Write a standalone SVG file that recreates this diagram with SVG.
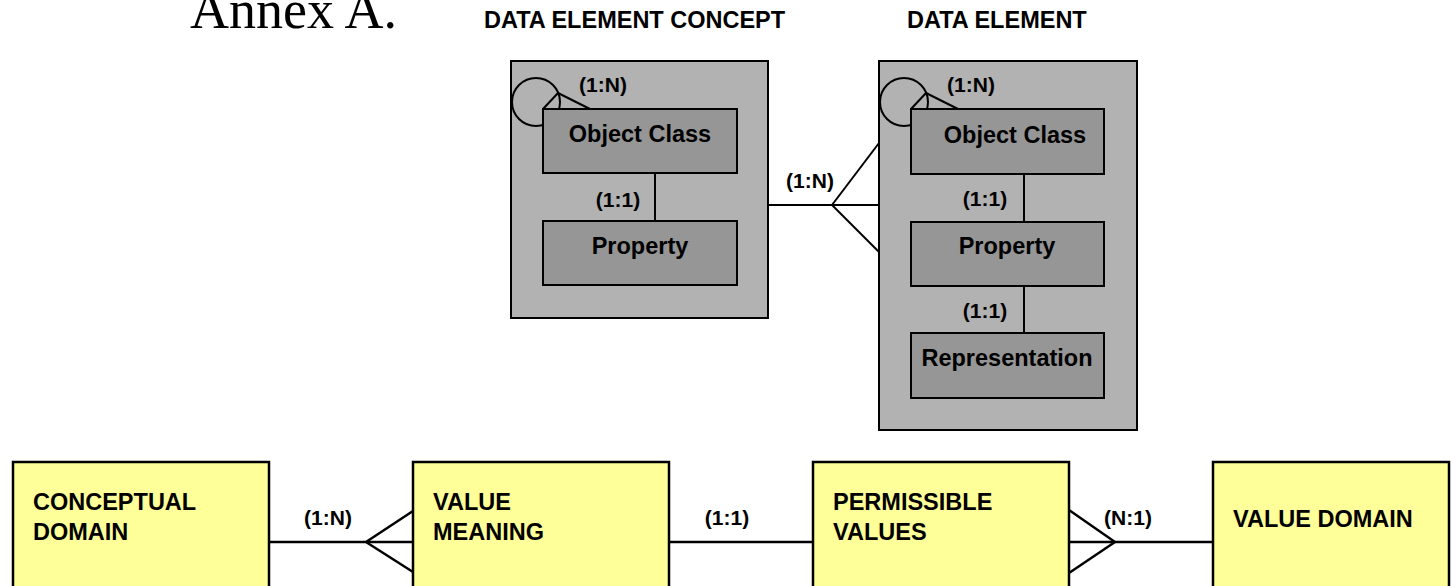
<svg xmlns="http://www.w3.org/2000/svg" width="1452" height="586" viewBox="0 0 1452 586">
<style>
  .bg { fill: #ffffff; }
  .outer { fill: #b2b2b2; stroke: #000; stroke-width: 2; }
  .inner { fill: #969696; stroke: #000; stroke-width: 2; }
  .yel { fill: #ffff99; stroke: #000; stroke-width: 2.5; }
  .ln { fill: none; stroke: #000; stroke-width: 2; }
  .lnb { fill: none; stroke: #000; stroke-width: 2.5; }
  .t { font-family: "Liberation Sans", Arial, sans-serif; font-weight: bold; font-size: 23.5px; fill: #000; }
  .tc { font-family: "Liberation Sans", Arial, sans-serif; font-weight: bold; font-size: 23.5px; fill: #000; text-anchor: middle; }
  .lbl { font-family: "Liberation Sans", Arial, sans-serif; font-weight: bold; font-size: 21px; fill: #000; text-anchor: middle; }
  .title { font-family: "Liberation Serif", "Times New Roman", serif; font-size: 54px; fill: #000; }
</style>
<rect class="bg" x="0" y="0" width="1452" height="586"/>

<g id="title">
  <text class="title" x="190" y="28">Annex A.</text>
</g>

<g id="data-element-concept">
  <text class="t" x="484" y="28">DATA ELEMENT CONCEPT</text>
  <rect class="outer" x="511" y="61" width="257" height="257"/>
  <circle class="ln" cx="536" cy="102" r="24"/>
  <line class="ln" x1="558" y1="93" x2="543" y2="109"/>
  <line class="ln" x1="558" y1="93" x2="590" y2="109"/>
  <text class="lbl" x="603" y="92">(1:N)</text>
  <g id="dec-object-class">
    <rect class="inner" x="543" y="109" width="194" height="64"/>
    <text class="tc" x="640" y="142">Object Class</text>
  </g>
  <line class="ln" x1="655" y1="173" x2="655" y2="221"/>
  <text class="lbl" x="618" y="207">(1:1)</text>
  <g id="dec-property">
    <rect class="inner" x="543" y="221" width="194" height="64"/>
    <text class="tc" x="640" y="254">Property</text>
  </g>
</g>

<g id="data-element">
  <text class="t" x="907" y="28">DATA ELEMENT</text>
  <rect class="outer" x="879" y="61" width="258" height="369"/>
  <circle class="ln" cx="904" cy="102" r="24"/>
  <line class="ln" x1="926" y1="93" x2="911" y2="109"/>
  <line class="ln" x1="926" y1="93" x2="958" y2="109"/>
  <text class="lbl" x="971" y="92">(1:N)</text>
  <g id="de-object-class">
    <rect class="inner" x="911" y="109" width="193" height="65"/>
    <text class="tc" x="1015" y="143">Object Class</text>
  </g>
  <line class="ln" x1="1024" y1="174" x2="1024" y2="222"/>
  <text class="lbl" x="985" y="206">(1:1)</text>
  <g id="de-property">
    <rect class="inner" x="911" y="222" width="193" height="64"/>
    <text class="tc" x="1007" y="254">Property</text>
  </g>
  <line class="ln" x1="1024" y1="286" x2="1024" y2="333"/>
  <text class="lbl" x="985" y="318">(1:1)</text>
  <g id="de-representation">
    <rect class="inner" x="911" y="333" width="193" height="65"/>
    <text class="tc" x="1007" y="366">Representation</text>
  </g>
</g>

<g id="conceptual-domain">
  <rect class="yel" x="13" y="462" width="256" height="140"/>
  <text class="t" x="33" y="510">CONCEPTUAL</text>
  <text class="t" x="33" y="540">DOMAIN</text>
</g>
<g id="value-meaning">
  <rect class="yel" x="413" y="462" width="256" height="140"/>
  <text class="t" x="433" y="510">VALUE</text>
  <text class="t" x="433" y="540">MEANING</text>
</g>
<g id="permissible-values">
  <rect class="yel" x="813" y="462" width="256" height="140"/>
  <text class="t" x="833" y="510">PERMISSIBLE</text>
  <text class="t" x="833" y="540">VALUES</text>
</g>
<g id="value-domain">
  <rect class="yel" x="1213" y="462" width="236" height="140"/>
  <text class="t" x="1233" y="527">VALUE DOMAIN</text>
</g>

<g id="connectors">
  <!-- DEC to DE (1:N) -->
  <line class="ln" x1="768" y1="205" x2="879" y2="205"/>
  <line class="ln" x1="832" y1="205" x2="879" y2="143"/>
  <line class="ln" x1="832" y1="205" x2="879" y2="252"/>
  <text class="lbl" x="810" y="188">(1:N)</text>
  <!-- CD to VM (1:N) -->
  <line class="lnb" x1="269" y1="542" x2="413" y2="542"/>
  <line class="lnb" x1="366" y1="542" x2="413" y2="511"/>
  <line class="lnb" x1="366" y1="542" x2="413" y2="572"/>
  <text class="lbl" x="328" y="525">(1:N)</text>
  <!-- VM to PV (1:1) -->
  <line class="lnb" x1="669" y1="542" x2="813" y2="542"/>
  <text class="lbl" x="727" y="525">(1:1)</text>
  <!-- PV to VD (N:1) -->
  <line class="lnb" x1="1069" y1="542" x2="1213" y2="542"/>
  <line class="lnb" x1="1115" y1="542" x2="1069" y2="510"/>
  <line class="lnb" x1="1115" y1="542" x2="1069" y2="573"/>
  <text class="lbl" x="1128" y="525">(N:1)</text>
</g>
</svg>
